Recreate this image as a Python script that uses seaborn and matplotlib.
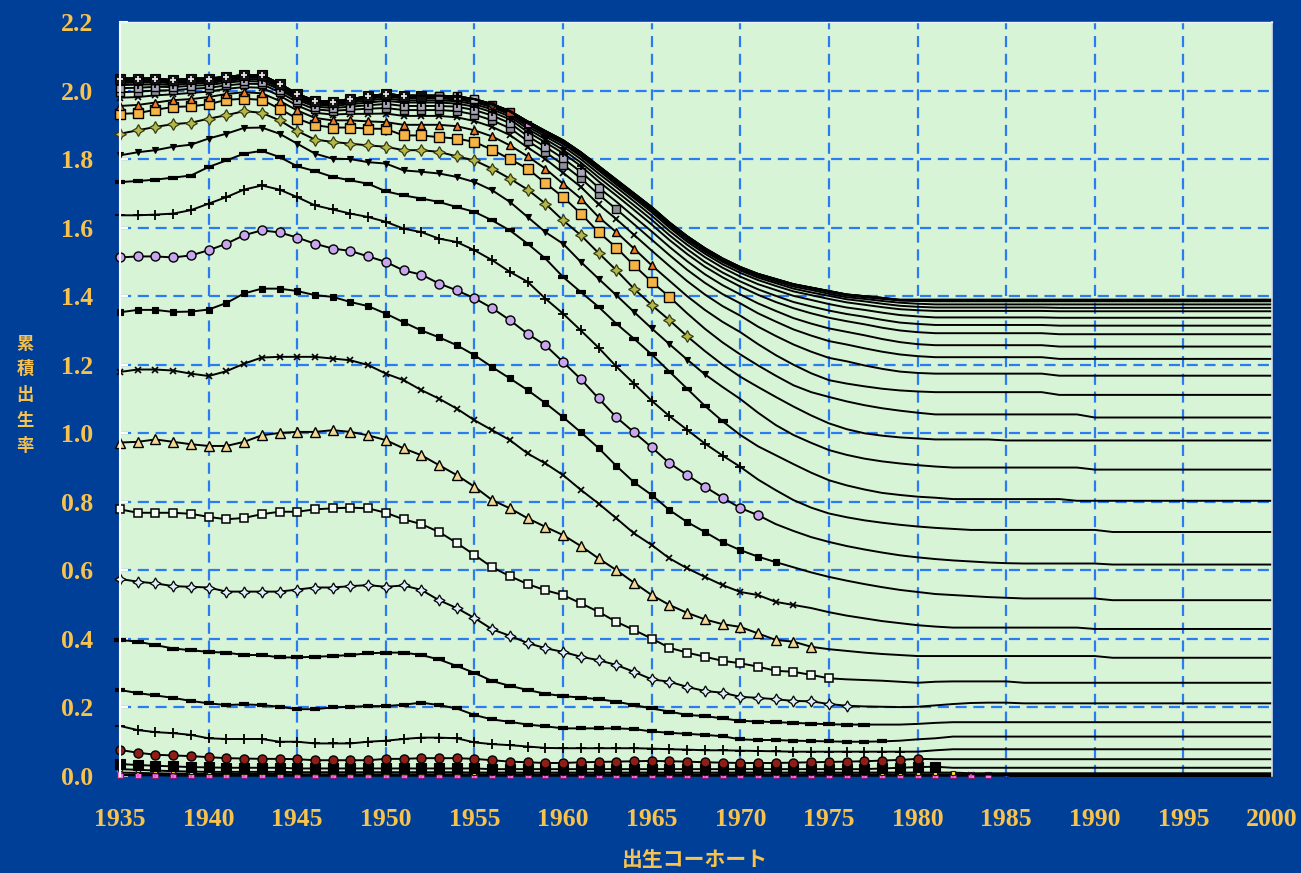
import matplotlib
matplotlib.use("Agg")
import matplotlib.pyplot as plt
import seaborn as sns

# Cumulative fertility (births per woman) reached by each age, by birth cohort.
cohorts = list(range(1935, 2001))
ages = list(range(15, 50))
last_data_year = 2000  # cohort c is observed up to age (2000 - c); later points are projections

cum_15 = [
    0.002, 0.002, 0.002, 0.001, 0.001, 0.001, 0.001, 0.001, 0.001, 0.001,
    0.001, 0.001, 0.001, 0.001, 0.001, 0.001, 0.001, 0.001, 0.001, 0.001,
    0.001, 0.001, 0.001, 0.001, 0.001, 0.001, 0.001, 0.001, 0.001, 0.001,
    0.001, 0.001, 0.001, 0.001, 0.001, 0.001, 0.001, 0.001, 0.001, 0.001,
    0.001, 0.001, 0.001, 0.001, 0.001, 0.001, 0.001, 0.001, 0.001, 0.001,
    0.001, 0.001, 0.001, 0.001, 0.001, 0.001, 0.001, 0.001, 0.001, 0.001,
    0.001, 0.001, 0.001, 0.001, 0.001, 0.001]
cum_16 = [
    0.004, 0.004, 0.003, 0.003, 0.003, 0.002, 0.002, 0.002, 0.002, 0.002,
    0.002, 0.002, 0.002, 0.002, 0.002, 0.002, 0.002, 0.002, 0.002, 0.002,
    0.002, 0.002, 0.002, 0.002, 0.002, 0.002, 0.002, 0.002, 0.002, 0.002,
    0.002, 0.002, 0.002, 0.002, 0.002, 0.002, 0.002, 0.002, 0.002, 0.002,
    0.002, 0.002, 0.002, 0.002, 0.002, 0.002, 0.002, 0.002, 0.002, 0.002,
    0.002, 0.002, 0.002, 0.002, 0.002, 0.002, 0.002, 0.002, 0.002, 0.002,
    0.002, 0.002, 0.002, 0.002, 0.002, 0.002]
cum_17 = [
    0.010, 0.009, 0.008, 0.007, 0.006, 0.006, 0.006, 0.006, 0.006, 0.006,
    0.005, 0.005, 0.005, 0.005, 0.005, 0.005, 0.005, 0.005, 0.005, 0.005,
    0.005, 0.005, 0.005, 0.005, 0.005, 0.005, 0.005, 0.005, 0.005, 0.005,
    0.005, 0.005, 0.005, 0.005, 0.005, 0.005, 0.005, 0.005, 0.005, 0.005,
    0.005, 0.005, 0.005, 0.005, 0.005, 0.005, 0.005, 0.005, 0.005, 0.004,
    0.004, 0.004, 0.004, 0.004, 0.004, 0.004, 0.004, 0.004, 0.004, 0.004,
    0.004, 0.004, 0.004, 0.004, 0.004, 0.004]
cum_18 = [
    0.020, 0.018, 0.016, 0.014, 0.013, 0.012, 0.012, 0.012, 0.012, 0.012,
    0.011, 0.011, 0.011, 0.011, 0.011, 0.011, 0.011, 0.011, 0.011, 0.011,
    0.010, 0.010, 0.010, 0.010, 0.010, 0.010, 0.010, 0.010, 0.010, 0.010,
    0.010, 0.010, 0.010, 0.010, 0.010, 0.010, 0.010, 0.010, 0.010, 0.010,
    0.010, 0.010, 0.010, 0.010, 0.010, 0.010, 0.010, 0.010, 0.008, 0.008,
    0.008, 0.008, 0.008, 0.008, 0.008, 0.008, 0.008, 0.008, 0.008, 0.008,
    0.008, 0.008, 0.008, 0.008, 0.008, 0.008]
cum_19 = [
    0.035, 0.032, 0.030, 0.028, 0.026, 0.025, 0.024, 0.024, 0.024, 0.024,
    0.022, 0.022, 0.022, 0.022, 0.022, 0.022, 0.022, 0.022, 0.022, 0.022,
    0.022, 0.020, 0.020, 0.020, 0.020, 0.020, 0.020, 0.020, 0.020, 0.020,
    0.020, 0.020, 0.020, 0.020, 0.020, 0.020, 0.020, 0.020, 0.020, 0.020,
    0.020, 0.020, 0.020, 0.022, 0.024, 0.026, 0.027, 0.024, 0.024, 0.024,
    0.024, 0.024, 0.024, 0.024, 0.024, 0.024, 0.024, 0.024, 0.024, 0.024,
    0.024, 0.024, 0.024, 0.024, 0.024, 0.024]
cum_20 = [
    0.076, 0.068, 0.062, 0.060, 0.058, 0.055, 0.052, 0.051, 0.050, 0.050,
    0.049, 0.046, 0.046, 0.046, 0.046, 0.050, 0.050, 0.052, 0.052, 0.052,
    0.050, 0.046, 0.042, 0.040, 0.038, 0.038, 0.040, 0.041, 0.042, 0.043,
    0.044, 0.043, 0.042, 0.040, 0.039, 0.038, 0.038, 0.038, 0.039, 0.040,
    0.041, 0.042, 0.043, 0.045, 0.047, 0.050, 0.049, 0.049, 0.049, 0.049,
    0.049, 0.049, 0.049, 0.049, 0.049, 0.049, 0.049, 0.049, 0.049, 0.049,
    0.049, 0.049, 0.049, 0.049, 0.049, 0.049]
cum_21 = [
    0.146, 0.134, 0.128, 0.125, 0.120, 0.110, 0.108, 0.108, 0.108, 0.100,
    0.100, 0.095, 0.095, 0.095, 0.100, 0.103, 0.108, 0.112, 0.112, 0.110,
    0.098, 0.093, 0.090, 0.086, 0.082, 0.081, 0.081, 0.081, 0.081, 0.081,
    0.080, 0.078, 0.077, 0.075, 0.075, 0.074, 0.073, 0.072, 0.071, 0.071,
    0.071, 0.071, 0.071, 0.071, 0.071, 0.071, 0.075, 0.078, 0.078, 0.078,
    0.078, 0.078, 0.078, 0.078, 0.078, 0.078, 0.078, 0.078, 0.078, 0.078,
    0.078, 0.078, 0.078, 0.078, 0.078, 0.078]
cum_22 = [
    0.251, 0.242, 0.235, 0.228, 0.219, 0.212, 0.207, 0.209, 0.207, 0.202,
    0.195, 0.195, 0.200, 0.202, 0.204, 0.204, 0.208, 0.214, 0.207, 0.197,
    0.178, 0.165, 0.158, 0.150, 0.145, 0.139, 0.139, 0.139, 0.139, 0.137,
    0.130, 0.126, 0.123, 0.120, 0.116, 0.107, 0.105, 0.105, 0.103, 0.102,
    0.101, 0.100, 0.100, 0.101, 0.103, 0.107, 0.110, 0.115, 0.115, 0.115,
    0.115, 0.115, 0.115, 0.115, 0.115, 0.115, 0.115, 0.115, 0.115, 0.115,
    0.115, 0.115, 0.115, 0.115, 0.115, 0.115]
cum_23 = [
    0.397, 0.392, 0.382, 0.372, 0.367, 0.362, 0.360, 0.353, 0.353, 0.346,
    0.346, 0.348, 0.350, 0.353, 0.358, 0.360, 0.360, 0.353, 0.340, 0.321,
    0.301, 0.277, 0.263, 0.251, 0.240, 0.233, 0.229, 0.224, 0.217, 0.207,
    0.197, 0.188, 0.178, 0.175, 0.168, 0.161, 0.159, 0.157, 0.155, 0.153,
    0.151, 0.150, 0.150, 0.150, 0.150, 0.152, 0.155, 0.157, 0.157, 0.157,
    0.157, 0.157, 0.157, 0.157, 0.157, 0.157, 0.157, 0.157, 0.157, 0.157,
    0.157, 0.157, 0.157, 0.157, 0.157, 0.157]
cum_24 = [
    0.575, 0.567, 0.562, 0.554, 0.552, 0.550, 0.538, 0.538, 0.538, 0.538,
    0.544, 0.550, 0.550, 0.554, 0.557, 0.552, 0.556, 0.543, 0.513, 0.490,
    0.461, 0.428, 0.409, 0.388, 0.373, 0.362, 0.348, 0.338, 0.324, 0.304,
    0.282, 0.275, 0.260, 0.248, 0.243, 0.231, 0.228, 0.224, 0.219, 0.218,
    0.210, 0.205, 0.203, 0.202, 0.201, 0.202, 0.206, 0.210, 0.213, 0.214,
    0.214, 0.212, 0.212, 0.212, 0.212, 0.212, 0.212, 0.212, 0.212, 0.212,
    0.212, 0.212, 0.212, 0.212, 0.212, 0.212]
cum_25 = [
    0.778, 0.768, 0.768, 0.768, 0.765, 0.756, 0.749, 0.753, 0.764, 0.771,
    0.771, 0.778, 0.781, 0.783, 0.781, 0.768, 0.749, 0.735, 0.712, 0.680,
    0.645, 0.609, 0.583, 0.560, 0.542, 0.528, 0.504, 0.479, 0.450, 0.426,
    0.401, 0.374, 0.360, 0.348, 0.336, 0.329, 0.319, 0.307, 0.304, 0.295,
    0.285, 0.282, 0.280, 0.278, 0.275, 0.272, 0.275, 0.276, 0.276, 0.276,
    0.276, 0.272, 0.272, 0.272, 0.272, 0.272, 0.272, 0.272, 0.272, 0.272,
    0.272, 0.272, 0.272, 0.272, 0.272, 0.272]
cum_26 = [
    0.973, 0.975, 0.982, 0.975, 0.968, 0.963, 0.963, 0.975, 0.994, 1.001,
    1.004, 1.004, 1.009, 1.004, 0.994, 0.980, 0.956, 0.936, 0.907, 0.878,
    0.844, 0.805, 0.781, 0.752, 0.727, 0.703, 0.671, 0.635, 0.601, 0.564,
    0.528, 0.499, 0.476, 0.457, 0.443, 0.435, 0.416, 0.397, 0.392, 0.377,
    0.370, 0.365, 0.360, 0.356, 0.353, 0.350, 0.350, 0.350, 0.350, 0.350,
    0.350, 0.350, 0.350, 0.350, 0.350, 0.350, 0.345, 0.345, 0.345, 0.345,
    0.345, 0.345, 0.345, 0.345, 0.345, 0.345]
cum_27 = [
    1.179, 1.186, 1.186, 1.183, 1.174, 1.167, 1.181, 1.203, 1.221, 1.223,
    1.223, 1.223, 1.218, 1.213, 1.199, 1.174, 1.155, 1.126, 1.101, 1.072,
    1.038, 1.009, 0.980, 0.941, 0.912, 0.878, 0.835, 0.795, 0.752, 0.708,
    0.674, 0.635, 0.606, 0.581, 0.557, 0.537, 0.528, 0.508, 0.499, 0.490,
    0.478, 0.468, 0.460, 0.452, 0.446, 0.440, 0.436, 0.433, 0.433, 0.433,
    0.433, 0.433, 0.433, 0.433, 0.433, 0.429, 0.429, 0.429, 0.429, 0.429,
    0.429, 0.429, 0.429, 0.429, 0.429, 0.429]
cum_28 = [
    1.353, 1.360, 1.360, 1.354, 1.355, 1.361, 1.380, 1.408, 1.422, 1.422,
    1.415, 1.403, 1.398, 1.383, 1.371, 1.349, 1.324, 1.300, 1.280, 1.257,
    1.228, 1.193, 1.160, 1.126, 1.088, 1.047, 1.003, 0.957, 0.905, 0.857,
    0.820, 0.776, 0.741, 0.712, 0.682, 0.659, 0.640, 0.624, 0.609, 0.594,
    0.581, 0.570, 0.560, 0.551, 0.543, 0.537, 0.531, 0.528, 0.525, 0.522,
    0.520, 0.518, 0.518, 0.518, 0.518, 0.518, 0.513, 0.513, 0.513, 0.513,
    0.513, 0.513, 0.513, 0.513, 0.513, 0.513]
cum_29 = [
    1.513, 1.516, 1.516, 1.513, 1.519, 1.534, 1.553, 1.578, 1.592, 1.586,
    1.571, 1.553, 1.539, 1.532, 1.516, 1.500, 1.475, 1.463, 1.437, 1.417,
    1.394, 1.365, 1.330, 1.290, 1.257, 1.208, 1.158, 1.102, 1.047, 1.003,
    0.959, 0.913, 0.878, 0.844, 0.812, 0.782, 0.761, 0.735, 0.715, 0.697,
    0.683, 0.671, 0.661, 0.652, 0.644, 0.638, 0.633, 0.629, 0.626, 0.623,
    0.621, 0.620, 0.620, 0.620, 0.620, 0.620, 0.617, 0.617, 0.617, 0.617,
    0.617, 0.617, 0.617, 0.617, 0.617, 0.617]
cum_30 = [
    1.636, 1.636, 1.638, 1.641, 1.651, 1.670, 1.689, 1.711, 1.723, 1.711,
    1.689, 1.665, 1.653, 1.641, 1.631, 1.617, 1.597, 1.587, 1.568, 1.558,
    1.534, 1.505, 1.471, 1.442, 1.393, 1.349, 1.300, 1.250, 1.195, 1.145,
    1.095, 1.050, 1.010, 0.970, 0.935, 0.902, 0.865, 0.834, 0.805, 0.783,
    0.766, 0.755, 0.746, 0.739, 0.733, 0.728, 0.724, 0.721, 0.718, 0.718,
    0.718, 0.718, 0.718, 0.718, 0.718, 0.718, 0.712, 0.712, 0.712, 0.712,
    0.712, 0.712, 0.712, 0.712, 0.712, 0.712]
cum_31 = [
    1.733, 1.736, 1.740, 1.746, 1.752, 1.777, 1.796, 1.816, 1.824, 1.806,
    1.779, 1.765, 1.748, 1.738, 1.728, 1.706, 1.694, 1.685, 1.675, 1.660,
    1.646, 1.621, 1.592, 1.553, 1.510, 1.456, 1.412, 1.369, 1.320, 1.276,
    1.230, 1.180, 1.130, 1.080, 1.035, 0.995, 0.962, 0.936, 0.910, 0.885,
    0.863, 0.848, 0.836, 0.826, 0.820, 0.815, 0.812, 0.808, 0.808, 0.808,
    0.808, 0.808, 0.808, 0.808, 0.803, 0.803, 0.803, 0.803, 0.803, 0.803,
    0.803, 0.803, 0.803, 0.803, 0.803, 0.803]
cum_32 = [
    1.811, 1.820, 1.826, 1.836, 1.842, 1.860, 1.874, 1.891, 1.892, 1.874,
    1.845, 1.816, 1.801, 1.800, 1.791, 1.787, 1.767, 1.763, 1.758, 1.748,
    1.733, 1.709, 1.675, 1.631, 1.587, 1.553, 1.500, 1.451, 1.403, 1.354,
    1.306, 1.260, 1.215, 1.172, 1.135, 1.100, 1.060, 1.024, 0.995, 0.972,
    0.951, 0.937, 0.926, 0.918, 0.912, 0.907, 0.903, 0.900, 0.900, 0.900,
    0.900, 0.900, 0.900, 0.900, 0.900, 0.894, 0.894, 0.894, 0.894, 0.894,
    0.894, 0.894, 0.894, 0.894, 0.894, 0.894]
cum_33 = [
    1.874, 1.884, 1.894, 1.902, 1.906, 1.918, 1.928, 1.940, 1.935, 1.913,
    1.882, 1.857, 1.850, 1.845, 1.840, 1.836, 1.826, 1.826, 1.821, 1.808,
    1.796, 1.772, 1.743, 1.711, 1.670, 1.621, 1.578, 1.526, 1.476, 1.422,
    1.374, 1.330, 1.283, 1.240, 1.200, 1.165, 1.135, 1.106, 1.078, 1.052,
    1.029, 1.012, 1.000, 0.993, 0.988, 0.985, 0.982, 0.982, 0.982, 0.982,
    0.979, 0.979, 0.979, 0.979, 0.979, 0.979, 0.979, 0.979, 0.979, 0.979,
    0.979, 0.979, 0.979, 0.979, 0.979, 0.979]
cum_34 = [
    1.932, 1.934, 1.944, 1.952, 1.954, 1.960, 1.973, 1.976, 1.973, 1.947,
    1.918, 1.899, 1.892, 1.892, 1.889, 1.888, 1.869, 1.869, 1.864, 1.860,
    1.850, 1.827, 1.800, 1.772, 1.730, 1.689, 1.641, 1.587, 1.542, 1.490,
    1.442, 1.398, 1.350, 1.305, 1.265, 1.230, 1.198, 1.168, 1.140, 1.120,
    1.106, 1.093, 1.082, 1.073, 1.066, 1.060, 1.055, 1.055, 1.055, 1.055,
    1.055, 1.055, 1.055, 1.055, 1.055, 1.046, 1.046, 1.046, 1.046, 1.046,
    1.046, 1.046, 1.046, 1.046, 1.046, 1.046]
cum_35 = [
    1.955, 1.958, 1.965, 1.972, 1.975, 1.981, 1.990, 1.995, 1.992, 1.970,
    1.942, 1.920, 1.913, 1.913, 1.910, 1.908, 1.900, 1.900, 1.900, 1.896,
    1.884, 1.866, 1.840, 1.808, 1.772, 1.728, 1.685, 1.631, 1.587, 1.539,
    1.490, 1.445, 1.400, 1.360, 1.325, 1.295, 1.260, 1.228, 1.200, 1.175,
    1.155, 1.145, 1.137, 1.130, 1.125, 1.122, 1.120, 1.120, 1.120, 1.120,
    1.120, 1.120, 1.120, 1.112, 1.112, 1.112, 1.112, 1.112, 1.112, 1.112,
    1.112, 1.112, 1.112, 1.112, 1.112, 1.112]
cum_36 = [
    1.979, 1.981, 1.986, 1.989, 1.993, 1.997, 2.005, 2.010, 2.008, 1.985,
    1.956, 1.935, 1.930, 1.932, 1.932, 1.933, 1.926, 1.926, 1.926, 1.922,
    1.911, 1.894, 1.870, 1.834, 1.800, 1.760, 1.719, 1.668, 1.625, 1.579,
    1.533, 1.488, 1.444, 1.405, 1.371, 1.343, 1.311, 1.284, 1.259, 1.238,
    1.220, 1.210, 1.198, 1.188, 1.180, 1.176, 1.174, 1.174, 1.174, 1.174,
    1.174, 1.174, 1.174, 1.168, 1.168, 1.168, 1.168, 1.168, 1.168, 1.168,
    1.168, 1.168, 1.168, 1.168, 1.168, 1.168]
cum_37 = [
    1.995, 1.997, 2.000, 2.001, 2.005, 2.008, 2.015, 2.020, 2.019, 1.995,
    1.966, 1.945, 1.941, 1.944, 1.947, 1.949, 1.943, 1.943, 1.943, 1.940,
    1.930, 1.913, 1.890, 1.853, 1.820, 1.784, 1.744, 1.697, 1.654, 1.610,
    1.565, 1.520, 1.477, 1.439, 1.406, 1.379, 1.350, 1.326, 1.303, 1.285,
    1.269, 1.259, 1.248, 1.238, 1.230, 1.225, 1.222, 1.222, 1.222, 1.222,
    1.222, 1.222, 1.222, 1.217, 1.217, 1.217, 1.217, 1.217, 1.217, 1.217,
    1.217, 1.217, 1.217, 1.217, 1.217, 1.217]
cum_38 = [
    2.007, 2.008, 2.011, 2.010, 2.014, 2.016, 2.023, 2.028, 2.026, 2.003,
    1.973, 1.953, 1.949, 1.953, 1.957, 1.961, 1.955, 1.955, 1.955, 1.953,
    1.943, 1.927, 1.905, 1.867, 1.836, 1.802, 1.763, 1.717, 1.676, 1.632,
    1.589, 1.544, 1.502, 1.464, 1.432, 1.405, 1.379, 1.357, 1.336, 1.320,
    1.306, 1.296, 1.286, 1.275, 1.266, 1.260, 1.257, 1.257, 1.257, 1.257,
    1.257, 1.257, 1.257, 1.253, 1.253, 1.253, 1.253, 1.253, 1.253, 1.253,
    1.253, 1.253, 1.253, 1.253, 1.253, 1.253]
cum_39 = [
    2.016, 2.017, 2.018, 2.016, 2.021, 2.022, 2.028, 2.033, 2.032, 2.008,
    1.978, 1.958, 1.955, 1.960, 1.965, 1.970, 1.965, 1.965, 1.965, 1.962,
    1.953, 1.937, 1.916, 1.879, 1.849, 1.817, 1.780, 1.735, 1.694, 1.652,
    1.609, 1.564, 1.523, 1.486, 1.455, 1.428, 1.404, 1.383, 1.365, 1.350,
    1.337, 1.327, 1.318, 1.308, 1.300, 1.295, 1.292, 1.292, 1.292, 1.292,
    1.292, 1.292, 1.292, 1.289, 1.289, 1.289, 1.289, 1.289, 1.289, 1.289,
    1.289, 1.289, 1.289, 1.289, 1.289, 1.289]
cum_40 = [
    2.022, 2.023, 2.024, 2.021, 2.025, 2.026, 2.032, 2.037, 2.037, 2.012,
    1.982, 1.962, 1.959, 1.965, 1.971, 1.977, 1.971, 1.971, 1.971, 1.969,
    1.960, 1.945, 1.924, 1.888, 1.858, 1.827, 1.790, 1.747, 1.706, 1.665,
    1.623, 1.578, 1.537, 1.500, 1.469, 1.443, 1.420, 1.401, 1.383, 1.370,
    1.358, 1.348, 1.340, 1.331, 1.323, 1.319, 1.316, 1.316, 1.316, 1.316,
    1.316, 1.316, 1.316, 1.314, 1.314, 1.314, 1.314, 1.314, 1.314, 1.314,
    1.314, 1.314, 1.314, 1.314, 1.314, 1.314]
cum_41 = [
    2.027, 2.027, 2.028, 2.024, 2.029, 2.030, 2.035, 2.040, 2.040, 2.015,
    1.985, 1.965, 1.963, 1.969, 1.976, 1.982, 1.977, 1.977, 1.977, 1.974,
    1.966, 1.951, 1.930, 1.895, 1.866, 1.837, 1.800, 1.758, 1.718, 1.677,
    1.635, 1.590, 1.550, 1.514, 1.483, 1.457, 1.435, 1.418, 1.401, 1.389,
    1.377, 1.367, 1.360, 1.352, 1.345, 1.341, 1.338, 1.338, 1.338, 1.338,
    1.338, 1.338, 1.338, 1.337, 1.337, 1.337, 1.337, 1.337, 1.337, 1.337,
    1.337, 1.337, 1.337, 1.337, 1.337, 1.337]
cum_42 = [
    2.030, 2.030, 2.031, 2.027, 2.031, 2.032, 2.037, 2.042, 2.042, 2.017,
    1.987, 1.967, 1.965, 1.971, 1.979, 1.985, 1.980, 1.980, 1.980, 1.978,
    1.970, 1.954, 1.934, 1.901, 1.872, 1.844, 1.808, 1.767, 1.726, 1.686,
    1.645, 1.600, 1.559, 1.524, 1.493, 1.468, 1.447, 1.430, 1.414, 1.403,
    1.392, 1.382, 1.375, 1.368, 1.362, 1.359, 1.357, 1.357, 1.357, 1.357,
    1.357, 1.357, 1.357, 1.356, 1.356, 1.356, 1.356, 1.356, 1.356, 1.356,
    1.356, 1.356, 1.356, 1.356, 1.356, 1.356]
cum_43 = [
    2.033, 2.033, 2.033, 2.028, 2.033, 2.033, 2.039, 2.044, 2.043, 2.019,
    1.989, 1.969, 1.966, 1.973, 1.981, 1.988, 1.982, 1.982, 1.982, 1.980,
    1.972, 1.957, 1.937, 1.904, 1.876, 1.848, 1.813, 1.772, 1.732, 1.691,
    1.651, 1.606, 1.565, 1.530, 1.500, 1.475, 1.454, 1.438, 1.422, 1.411,
    1.401, 1.391, 1.385, 1.378, 1.372, 1.369, 1.367, 1.367, 1.367, 1.367,
    1.367, 1.367, 1.367, 1.366, 1.366, 1.366, 1.366, 1.366, 1.366, 1.366,
    1.366, 1.366, 1.366, 1.366, 1.366, 1.366]
cum_44 = [
    2.034, 2.034, 2.034, 2.029, 2.034, 2.034, 2.039, 2.044, 2.044, 2.019,
    1.989, 1.969, 1.967, 1.974, 1.982, 1.989, 1.984, 1.984, 1.984, 1.982,
    1.974, 1.959, 1.939, 1.907, 1.879, 1.851, 1.816, 1.776, 1.735, 1.695,
    1.655, 1.610, 1.570, 1.535, 1.504, 1.479, 1.459, 1.443, 1.428, 1.418,
    1.407, 1.397, 1.392, 1.386, 1.381, 1.378, 1.376, 1.376, 1.376, 1.376,
    1.376, 1.376, 1.376, 1.376, 1.376, 1.376, 1.376, 1.376, 1.376, 1.376,
    1.376, 1.376, 1.376, 1.376, 1.376, 1.376]
cum_45 = [
    2.035, 2.035, 2.035, 2.030, 2.035, 2.035, 2.040, 2.045, 2.045, 2.020,
    1.990, 1.970, 1.968, 1.975, 1.983, 1.990, 1.985, 1.985, 1.985, 1.983,
    1.975, 1.960, 1.940, 1.909, 1.881, 1.854, 1.819, 1.779, 1.738, 1.698,
    1.658, 1.613, 1.573, 1.538, 1.508, 1.483, 1.463, 1.448, 1.433, 1.423,
    1.412, 1.402, 1.397, 1.392, 1.388, 1.386, 1.385, 1.385, 1.385, 1.385,
    1.385, 1.385, 1.385, 1.385, 1.385, 1.385, 1.385, 1.385, 1.385, 1.385,
    1.385, 1.385, 1.385, 1.385, 1.385, 1.385]
cum_46 = [
    2.035, 2.035, 2.035, 2.030, 2.035, 2.035, 2.040, 2.045, 2.045, 2.020,
    1.990, 1.970, 1.968, 1.975, 1.983, 1.990, 1.985, 1.985, 1.985, 1.983,
    1.975, 1.960, 1.940, 1.909, 1.881, 1.854, 1.819, 1.779, 1.739, 1.699,
    1.659, 1.614, 1.574, 1.539, 1.509, 1.484, 1.464, 1.449, 1.434, 1.424,
    1.414, 1.404, 1.399, 1.394, 1.388, 1.387, 1.387, 1.387, 1.387, 1.387,
    1.387, 1.387, 1.387, 1.387, 1.387, 1.387, 1.387, 1.387, 1.387, 1.387,
    1.387, 1.387, 1.387, 1.387, 1.387, 1.387]
cum_47 = [
    2.035, 2.035, 2.035, 2.030, 2.035, 2.035, 2.040, 2.045, 2.045, 2.020,
    1.990, 1.970, 1.968, 1.975, 1.983, 1.990, 1.985, 1.985, 1.985, 1.983,
    1.975, 1.960, 1.940, 1.910, 1.882, 1.855, 1.820, 1.780, 1.740, 1.700,
    1.660, 1.615, 1.575, 1.540, 1.510, 1.485, 1.465, 1.450, 1.435, 1.425,
    1.415, 1.405, 1.400, 1.395, 1.388, 1.388, 1.388, 1.388, 1.388, 1.388,
    1.388, 1.388, 1.388, 1.388, 1.388, 1.388, 1.388, 1.388, 1.388, 1.388,
    1.388, 1.388, 1.388, 1.388, 1.388, 1.388]
cum_48 = [
    2.035, 2.035, 2.035, 2.030, 2.035, 2.035, 2.040, 2.045, 2.045, 2.020,
    1.990, 1.970, 1.968, 1.975, 1.983, 1.990, 1.985, 1.985, 1.985, 1.983,
    1.975, 1.960, 1.940, 1.910, 1.882, 1.855, 1.820, 1.780, 1.740, 1.700,
    1.660, 1.615, 1.575, 1.540, 1.510, 1.485, 1.465, 1.450, 1.435, 1.425,
    1.415, 1.405, 1.400, 1.395, 1.389, 1.389, 1.389, 1.389, 1.389, 1.389,
    1.389, 1.389, 1.389, 1.389, 1.389, 1.389, 1.389, 1.389, 1.389, 1.389,
    1.389, 1.389, 1.389, 1.389, 1.389, 1.389]
cum_49 = [
    2.035, 2.035, 2.035, 2.030, 2.035, 2.035, 2.040, 2.045, 2.045, 2.020,
    1.990, 1.970, 1.968, 1.975, 1.983, 1.990, 1.985, 1.985, 1.985, 1.983,
    1.975, 1.960, 1.940, 1.910, 1.882, 1.855, 1.820, 1.780, 1.740, 1.700,
    1.660, 1.615, 1.575, 1.540, 1.510, 1.485, 1.465, 1.450, 1.435, 1.425,
    1.415, 1.405, 1.400, 1.395, 1.390, 1.390, 1.390, 1.390, 1.390, 1.390,
    1.390, 1.390, 1.390, 1.390, 1.390, 1.390, 1.390, 1.390, 1.390, 1.390,
    1.390, 1.390, 1.390, 1.390, 1.390, 1.390]

cum_by_age = [cum_15, cum_16, cum_17, cum_18, cum_19, cum_20, cum_21, cum_22,
              cum_23, cum_24, cum_25, cum_26, cum_27, cum_28, cum_29, cum_30,
              cum_31, cum_32, cum_33, cum_34, cum_35, cum_36, cum_37, cum_38,
              cum_39, cum_40, cum_41, cum_42, cum_43, cum_44, cum_45, cum_46,
              cum_47, cum_48, cum_49]

x_ticks = [1935, 1940, 1945, 1950, 1955, 1960, 1965, 1970, 1975, 1980, 1985, 1990, 1995, 2000]
x_tick_labels = ["1935", "1940", "1945", "1950", "1955", "1960", "1965",
                 "1970", "1975", "1980", "1985", "1990", "1995", "2000"]
y_ticks = [0.0, 0.2, 0.4, 0.6, 0.8, 1.0, 1.2, 1.4, 1.6, 1.8, 2.0, 2.2]
y_tick_labels = ["0.0", "0.2", "0.4", "0.6", "0.8", "1.0", "1.2",
                 "1.4", "1.6", "1.8", "2.0", "2.2"]
x_title = "出生コーホート"
y_title = "累積出生率"

# marker, size, face colour, edge colour, edge width for the observed part of each line
marker_styles = {
    15: ("*", 5, "#3a5ad8", "#1a2a80", 0.8),
    16: ("s", 4, "#ff78e8", "#7a2070", 0.8),
    17: ("1", 6, "#e050d8", "#e050d8", 1.2),
    18: ("s", 3.5, "#f4e040", "#202000", 0.8),
    19: ("s", 6.5, "#000000", "#000000", 0.8),
    20: ("o", 6.5, "#8e1e16", "#000000", 1.0),
    21: ("+", 7, "#000000", "#000000", 1.3),
    22: ("_", 7, "#000000", "#000000", 3.0),
    23: ("_", 8, "#000000", "#000000", 3.0),
    24: ((4, 1, 0), 8, "#dcefff", "#000000", 0.9),
    25: ("s", 6, "#f2fbf2", "#000000", 1.1),
    26: ("^", 6.5, "#f2d894", "#000000", 1.0),
    27: ("x", 5, "#000000", "#000000", 1.2),
    28: ("s", 4.5, "#000000", "#000000", 0.8),
    29: ("o", 6.5, "#c8a6ee", "#000000", 1.0),
    30: ("+", 7, "#000000", "#000000", 1.3),
    31: ("_", 7, "#000000", "#000000", 3.0),
    32: ("v", 4.5, "#000000", "#000000", 0.8),
    33: ((4, 1, 0), 8.5, "#b2b84a", "#3a3a10", 0.9),
    34: ("s", 6.5, "#f6b444", "#000000", 1.0),
    35: ("^", 6, "#f07a22", "#000000", 1.0),
    36: ("x", 5, "#000000", "#000000", 1.2),
    37: ("s", 5.5, "#8e8e98", "#000000", 1.0),
    38: ("s", 6, "#a6a6b8", "#000000", 1.0),
    39: ("+", 6, "#000000", "#000000", 1.3),
    40: ("v", 5, "#000000", "#000000", 0.8),
    41: ("_", 6, "#000000", "#000000", 3.0),
    42: ("s", 4.5, "#c890c8", "#000000", 0.8),
    43: ("s", 6, "#c2441e", "#000000", 1.0),
    44: ("D", 4, "#404040", "#000000", 0.8),
    45: ("s", 5.5, "#b8b8c0", "#000000", 1.0),
    46: ("P", 6, "#000000", "#000000", 0.8),
    47: ("s", 6, "#9a9aa4", "#000000", 1.0),
    48: ("s", 7, "#111111", "#000000", 0.8),
    49: ("+", 5, "#e6e6e6", "#e6e6e6", 1.3),
}

BG = "#003f98"
PANEL = "#d8f4d6"
GRID = "#2a7cf0"
GOLD = "#f7c24d"

plt.rcParams["font.family"] = ["Liberation Serif", "DejaVu Serif"]

fig = plt.figure(figsize=(13.01, 8.73), dpi=100, facecolor=BG)
ax = fig.add_axes([120 / 1301, 97 / 873, 1152 / 1301, 754 / 873])
ax.set_facecolor(PANEL)

for age, series in zip(ages, cum_by_age):
    last_obs = last_data_year - age
    k = cohorts.index(last_obs)
    mk, ms, fc, ec, mew = marker_styles[age]
    # projected continuation, plain line
    sns.lineplot(x=cohorts[k:], y=series[k:], ax=ax, color="black", lw=1.4,
                 estimator=None, sort=False, legend=False, clip_on=False)
    # observed part with markers
    sns.lineplot(x=cohorts[:k + 1], y=series[:k + 1], ax=ax, color="black", lw=1.4,
                 marker=mk, markersize=ms, markerfacecolor=fc, markeredgecolor=ec,
                 markeredgewidth=mew, estimator=None, sort=False, legend=False,
                 clip_on=False)

ax.set_xlim(1935, 2000)
ax.set_ylim(0, 2.2)
ax.set_xticks(x_ticks)
ax.set_xticklabels(x_tick_labels)
ax.set_yticks(y_ticks)
ax.set_yticklabels(y_tick_labels)
ax.set_xlabel("")
ax.set_ylabel("")

ax.set_axisbelow(True)
ax.grid(True, color=GRID, lw=1.6, linestyle=(0, (5, 3)))
for gl in (ax.get_xgridlines()[0], ax.get_xgridlines()[-1],
           ax.get_ygridlines()[0], ax.get_ygridlines()[-1]):
    gl.set_visible(False)

ax.tick_params(axis="x", length=0, pad=23, labelsize=18.5, labelcolor=GOLD)
ax.tick_params(axis="y", direction="in", length=6, width=1.5, color="white",
               pad=19, labelsize=18.5, labelcolor=GOLD)
for lab in ax.get_xticklabels() + ax.get_yticklabels():
    lab.set_fontweight("bold")

ax.spines["bottom"].set_visible(False)
ax.spines["left"].set_color("white")
ax.spines["left"].set_linewidth(1.5)
ax.spines["top"].set_color("#eef4ff")
ax.spines["top"].set_linewidth(1.0)
ax.spines["right"].set_color("#d8dcf0")
ax.spines["right"].set_linewidth(1.2)

fig.text(695 / 1301, 1 - 860 / 873, x_title, ha="center", va="center",
         fontsize=15, fontweight="bold", color=GOLD,
         family=["Noto Sans CJK JP", "DejaVu Sans"])
fig.text(25 / 1301, 1 - 395 / 873, "\n".join(y_title), ha="center", va="center",
         fontsize=12.5, fontweight="bold", color=GOLD, linespacing=1.55,
         family=["Noto Sans CJK JP", "DejaVu Sans"])

fig.savefig("out.png", dpi=100, facecolor=BG)
